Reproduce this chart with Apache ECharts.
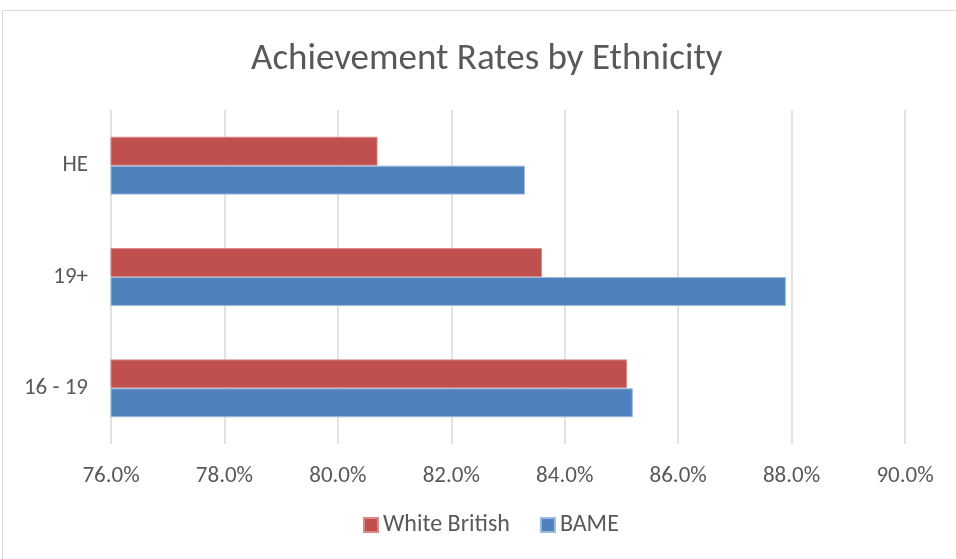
<!DOCTYPE html>
<html>
<head>
<meta charset="utf-8">
<script src="https://cdn.jsdelivr.net/npm/echarts@6/dist/echarts.min.js"></script>
<style>
  html, body { margin: 0; padding: 0; background: #fff; }
  #frame { position: absolute; left: 2px; top: 10px; width: 960px; height: 560px; border: 1px solid #d9d9d9; box-sizing: border-box; }
  #chart { position: absolute; left: 0; top: 0; width: 956px; height: 559px; }
</style>
</head>
<body>
<div id="frame"></div>
<div id="chart"></div>
<script>
// Programme groups, listed bottom to top on the vertical axis
const categories = ['16 - 19', '19+', 'HE'];
// Achievement rates (%) per group
const whiteBritish = [85.1, 83.6, 80.7];
const bame = [85.2, 87.9, 83.3];
// Value-axis range and step (%)
const axisMin = 76;
const axisMax = 90;
const axisStep = 2;

const chart = echarts.init(document.getElementById('chart'), null, { renderer: 'canvas' });
const textColor = '#595959';
const font = 'Calibri, Carlito, Lato, "Open Sans", sans-serif';

chart.setOption({
  animation: false,
  backgroundColor: 'transparent',
  title: {
    text: 'Achievement Rates by Ethnicity',
    left: 246,
    top: 36,
    textStyle: { color: textColor, fontSize: 37, fontWeight: 'normal', fontFamily: font }
  },
  legend: {
    data: ['White British', 'BAME'],
    bottom: 17,
    left: 358,
    itemWidth: 14,
    itemHeight: 14,
    itemGap: 30,
    icon: 'rect',
    textStyle: { color: textColor, fontSize: 24, fontFamily: font }
  },
  grid: { left: 111, right: 51, top: 110, bottom: 115, containLabel: false },
  xAxis: {
    type: 'value',
    min: axisMin,
    max: axisMax,
    interval: axisStep,
    axisLine: { show: false },
    axisTick: { show: false },
    splitLine: { show: true, lineStyle: { color: '#d9d9d9', width: 1.5 } },
    axisLabel: {
      color: textColor, fontSize: 23, fontFamily: font, margin: 21,
      formatter: v => v.toFixed(1) + '%'
    }
  },
  yAxis: {
    type: 'category',
    data: categories,
    axisLine: { show: false },
    axisTick: { show: false },
    axisLabel: { color: textColor, fontSize: 23, fontFamily: font, margin: 23 }
  },
  series: [
    {
      name: 'White British',
      type: 'bar',
      data: whiteBritish,
      barGap: '0%',
      barCategoryGap: '48%',
      itemStyle: { color: '#C0504D', borderColor: '#D98A88', borderWidth: 1 }
    },
    {
      name: 'BAME',
      type: 'bar',
      data: bame,
      barGap: '0%',
      barCategoryGap: '48%',
      itemStyle: { color: '#4F81BD', borderColor: '#9DB9DE', borderWidth: 1 }
    }
  ]
});
</script>
</body>
</html>
